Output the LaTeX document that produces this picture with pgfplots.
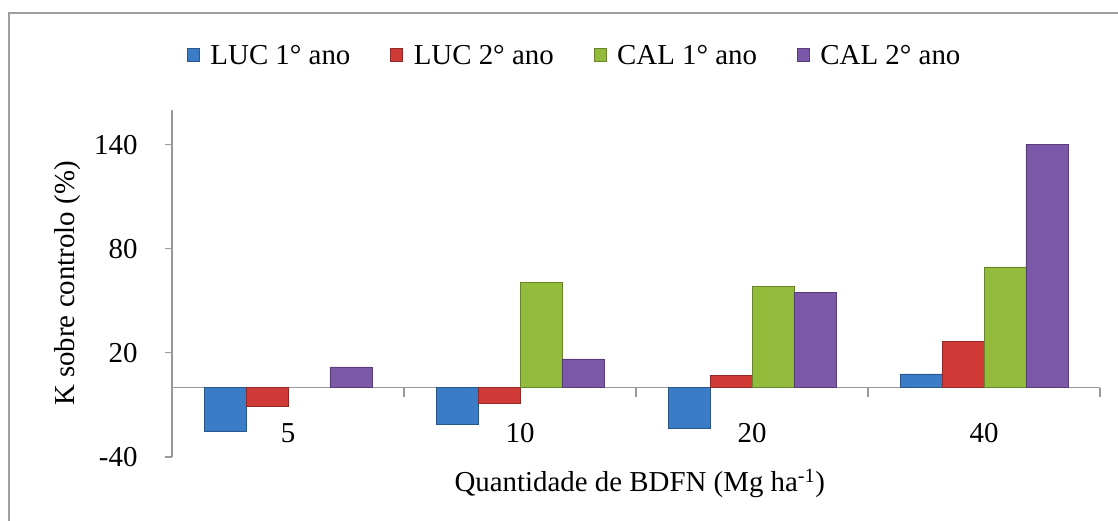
\documentclass[border=0pt]{standalone}
\usepackage{fontspec}
\setmainfont{Liberation Serif}
\usepackage{pgfplots}
\pgfplotsset{compat=1.18}
\newcommand\chartfont{\fontsize{29}{34}\selectfont}
\definecolor{cblue}{RGB}{58,124,198}
\definecolor{cred}{RGB}{208,58,54}
\definecolor{cgreen}{RGB}{148,188,60}
\definecolor{cpurple}{RGB}{124,88,168}
\begin{document}
\begin{tikzpicture}
\useasboundingbox (0bp,0bp) rectangle (1118bp,521bp);
\draw[gray!75, line width=2bp] (9bp,-20bp) -- (9bp,508bp) -- (1140bp,508bp);
\begin{axis}[
  at={(172bp,64bp)}, anchor=south west,
  scale only axis, width=928bp, height=347bp,
  xmin=-0.5, xmax=3.5, ymin=-40, ymax=160,
  axis x line*=middle, axis y line*=left,
  axis line style={draw=gray!80, line width=1.2bp},
  ybar=0pt, bar width=0.181,
  ytick={-40,20,80,140},
  xtick={0,1,2,3}, xticklabels={5,10,20,40},
  xtick style={draw=none},
  extra x ticks={0.5,1.5,2.5,3.5},
  extra x tick labels={},
  extra x tick style={xtick style={draw=gray!80, line width=1.2bp}, major tick length=9bp, tick align=outside},
  ytick style={draw=gray!80, line width=1.2bp},
  major tick length=7bp, tick align=outside,
  /pgf/number format/assume math mode=true,
  tick label style={font=\chartfont, text=black},
  yticklabel style={xshift=-24bp},
  xticklabel style={yshift=-25bp},
  xlabel={Quantidade de BDFN (Mg ha\textsuperscript{-1})},
  ylabel={K sobre controlo (\%)},
  label style={font=\chartfont},
  xlabel style={at={(axis description cs:0.504,-0.075)}, anchor=center},
  ylabel style={at={(axis description cs:-0.1125,0.5)}, anchor=center},
  legend columns=4,
  legend style={at={(axis description cs:0.434,1.158)}, anchor=center, draw=none, fill=none, font=\chartfont,
    /tikz/every odd column/.append style={column sep=9bp},
    /tikz/every even column/.append style={column sep=38bp}},
  legend image code/.code={\fill[#1] (0bp,-6bp) rectangle (12bp,7bp);},
]
\addplot[fill=cblue, draw=cblue!70!black] coordinates {(0,-25.2) (1,-20.9) (2,-23.6) (3,7.9)};
\addplot[fill=cred, draw=cred!70!black] coordinates {(0,-10.8) (1,-8.8) (2,7.1) (3,26.5)};
\addplot[fill=cgreen, draw=cgreen!70!black] coordinates {(1,60.5) (2,58.4) (3,69.6)};
\addplot[fill=cpurple, draw=cpurple!70!black] coordinates {(0,11.9) (1,16.5) (2,54.9) (3,140.4)};
\legend{LUC 1° ano, LUC 2° ano, CAL 1° ano, CAL 2° ano}
\end{axis}
\end{tikzpicture}
\end{document}
